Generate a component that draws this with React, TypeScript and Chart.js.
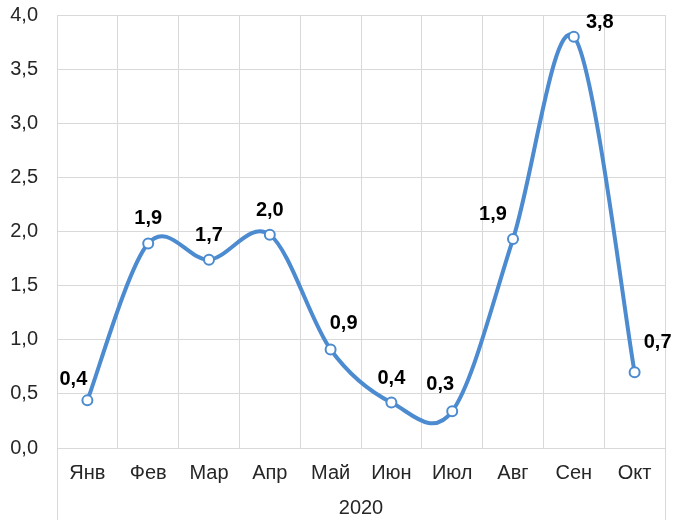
import React, { useEffect, useRef } from "react";
import { Chart, registerables } from "chart.js";

Chart.register(...registerables);

// data
const months = ["Янв", "Фев", "Мар", "Апр", "Май", "Июн", "Июл", "Авг", "Сен", "Окт"];
const values = [0.44, 1.89, 1.74, 1.97, 0.91, 0.42, 0.34, 1.93, 3.8, 0.7];
const groupLabel = "2020";
const yTicks = [0, 0.5, 1, 1.5, 2, 2.5, 3, 3.5, 4];

const FONT = "'Liberation Sans', Arial, sans-serif";
const LINE_BLUE = "#4C8BD0";
const GRID = "#D9D9D9";
const TEXT = "#262626";

const fmt = (v: number) => v.toFixed(1).replace(".", ",");

// where each value label sits relative to its point (dx, dy)
const labelShift: [number, number][] = [
  [-14, -21],
  [0, -25],
  [0, -24],
  [0, -24],
  [13, -26],
  [0, -24],
  [-12, -27],
  [-20, -25],
  [26, -14],
  [23, -30],
];

// Excel-style smoothing: uniform Catmull-Rom control points (1/6 of the chord)
const excelSmoothing = {
  id: "excelSmoothing",
  beforeDatasetsDraw(chart: any) {
    const meta = chart.getDatasetMeta(0);
    const pts = meta.data;
    const n = pts.length;
    for (let i = 0; i < n; i++) {
      const prev = pts[Math.max(i - 1, 0)];
      const next = pts[Math.min(i + 1, n - 1)];
      const cur = pts[i];
      const dx = (next.x - prev.x) / 6;
      const dy = (next.y - prev.y) / 6;
      cur.cp1x = cur.x - dx;
      cur.cp1y = cur.y - dy;
      cur.cp2x = cur.x + dx;
      cur.cp2y = cur.y + dy;
    }
    meta.dataset._pointsUpdated = true;
    meta.dataset._path = undefined;
  },
};

const valueLabels = {
  id: "valueLabels",
  afterDatasetsDraw(chart: any) {
    const { ctx } = chart;
    const meta = chart.getDatasetMeta(0);
    ctx.save();
    ctx.font = `bold 20px ${FONT}`;
    ctx.fillStyle = "#000";
    ctx.textAlign = "center";
    ctx.textBaseline = "middle";
    meta.data.forEach((pt: any, i: number) => {
      const [dx, dy] = labelShift[i] || [0, -24];
      ctx.fillText(fmt(values[i]), pt.x + dx, pt.y + dy);
    });
    ctx.restore();
  },
};

// outer borders of the "2020" group running down through the label rows
const groupBorders = {
  id: "groupBorders",
  afterDraw(chart: any) {
    const { ctx, chartArea } = chart;
    ctx.save();
    ctx.strokeStyle = GRID;
    ctx.lineWidth = 1;
    ctx.beginPath();
    [chartArea.left, chartArea.right].forEach((x: number) => {
      const px = Math.round(x) + 0.5;
      ctx.moveTo(px, chartArea.bottom);
      ctx.lineTo(px, chartArea.bottom + 72);
    });
    ctx.stroke();
    ctx.restore();
  },
};

function LineChart() {
  const canvasRef = useRef<HTMLCanvasElement>(null);
  const chartRef = useRef<Chart | null>(null);

  useEffect(() => {
    const canvas = canvasRef.current;
    if (!canvas) return;
    const ctx = canvas.getContext("2d");
    if (!ctx) return;

    if (chartRef.current) chartRef.current.destroy();

    chartRef.current = new Chart(ctx, {
      type: "line",
      data: {
        labels: months,
        datasets: [
          {
            data: values,
            borderColor: LINE_BLUE,
            borderWidth: 4,
            tension: 0.5,
            pointRadius: 5,
            pointBorderWidth: 2,
            pointBackgroundColor: "#fff",
            pointBorderColor: LINE_BLUE,
          },
        ],
      },
      options: {
        animation: false,
        responsive: false,
        layout: { padding: { top: 15, right: 15, left: 0, bottom: 0 } },
        plugins: {
          legend: { display: false },
          tooltip: { enabled: false },
        },
        scales: {
          x: {
            offset: true,
            grid: { color: GRID, offset: true, drawTicks: false },
            border: { color: GRID },
            ticks: {
              color: TEXT,
              font: { family: FONT, size: 20 },
              padding: 13,
            },
            title: {
              display: true,
              text: groupLabel,
              color: TEXT,
              font: { family: FONT, size: 20 },
              padding: { top: 0, bottom: 12 },
            },
            afterFit: (scale: any) => {
              scale.height = 84;
            },
          },
          y: {
            min: 0,
            max: 4,
            afterBuildTicks: (scale: any) => {
              scale.ticks = yTicks.map((v) => ({ value: v }));
            },
            grid: { color: GRID, drawTicks: false },
            border: { color: GRID },
            ticks: {
              color: TEXT,
              font: { family: FONT, size: 20 },
              padding: 19,
              callback: (v: any) => fmt(Number(v)),
            },
            afterFit: (scale: any) => {
              scale.width = 57;
              scale.paddingTop = 0;
              scale.paddingBottom = 0;
            },
          },
        },
      },
      plugins: [excelSmoothing, valueLabels, groupBorders],
    });

    return () => {
      chartRef.current?.destroy();
    };
  }, []);

  return <canvas ref={canvasRef} width={680} height={532} />;
}

export default function App() {
  return (
    <div style={{ position: "fixed", left: 0, top: 0, width: 680, height: 532, background: "#fff" }}>
      <LineChart />
    </div>
  );
}
